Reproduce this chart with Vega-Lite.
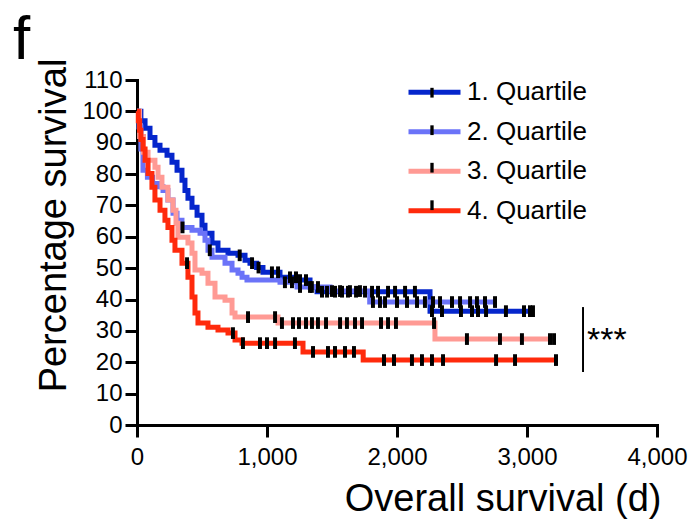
{
  "$schema": "https://vega.github.io/schema/vega-lite/v6.json",
  "width": 520,
  "height": 345,
  "autosize": "none",
  "padding": {"left": 137, "top": 80, "right": 41, "bottom": 99},
  "background": "white",
  "config": {
    "view": {"stroke": null},
    "font": "Liberation Sans",
    "axis": {
      "grid": false,
      "domainColor": "black",
      "domainWidth": 3,
      "domainCap": "square",
      "tickColor": "black",
      "tickWidth": 3,
      "tickSize": 12,
      "labelColor": "black",
      "labelFont": "Liberation Sans",
      "labelFontSize": 24,
      "labelFlush": false,
      "labelOverlap": false,
      "titleColor": "black",
      "titleFont": "Liberation Sans",
      "titleFontSize": 38,
      "titleFontWeight": "normal"
    }
  },
  "title": {
    "text": "f",
    "anchor": "start",
    "frame": "group",
    "fontSize": 62,
    "fontWeight": "normal",
    "font": "Liberation Sans",
    "color": "black",
    "baseline": "alphabetic",
    "offset": 10,
    "dx": -124,
    "dy": 73
  },
  "datasets": {
    "curves": [
      {"q": "1. Quartile", "t": 0, "s": 100},
      {"q": "1. Quartile", "t": 30, "s": 97},
      {"q": "1. Quartile", "t": 62, "s": 94.6},
      {"q": "1. Quartile", "t": 100, "s": 91.7},
      {"q": "1. Quartile", "t": 138, "s": 89.2},
      {"q": "1. Quartile", "t": 177, "s": 87.6},
      {"q": "1. Quartile", "t": 231, "s": 86},
      {"q": "1. Quartile", "t": 269, "s": 83.8},
      {"q": "1. Quartile", "t": 308, "s": 81.2},
      {"q": "1. Quartile", "t": 346, "s": 78},
      {"q": "1. Quartile", "t": 369, "s": 74.8},
      {"q": "1. Quartile", "t": 392, "s": 72.3},
      {"q": "1. Quartile", "t": 423, "s": 69.4},
      {"q": "1. Quartile", "t": 462, "s": 66.9},
      {"q": "1. Quartile", "t": 500, "s": 63.7},
      {"q": "1. Quartile", "t": 523, "s": 61.1},
      {"q": "1. Quartile", "t": 577, "s": 58},
      {"q": "1. Quartile", "t": 623, "s": 55.7},
      {"q": "1. Quartile", "t": 700, "s": 54.8},
      {"q": "1. Quartile", "t": 777, "s": 54.1},
      {"q": "1. Quartile", "t": 831, "s": 52.5},
      {"q": "1. Quartile", "t": 869, "s": 51.6},
      {"q": "1. Quartile", "t": 920, "s": 50.2},
      {"q": "1. Quartile", "t": 969, "s": 48.7},
      {"q": "1. Quartile", "t": 1100, "s": 47.1},
      {"q": "1. Quartile", "t": 1231, "s": 46.2},
      {"q": "1. Quartile", "t": 1331, "s": 44},
      {"q": "1. Quartile", "t": 1385, "s": 42.5},
      {"q": "1. Quartile", "t": 2254, "s": 36.3},
      {"q": "1. Quartile", "t": 3046, "s": 36.3},
      {"q": "2. Quartile", "t": 0, "s": 100},
      {"q": "2. Quartile", "t": 15, "s": 95},
      {"q": "2. Quartile", "t": 30, "s": 88},
      {"q": "2. Quartile", "t": 46, "s": 81.2},
      {"q": "2. Quartile", "t": 80, "s": 79},
      {"q": "2. Quartile", "t": 120, "s": 77},
      {"q": "2. Quartile", "t": 160, "s": 76},
      {"q": "2. Quartile", "t": 200, "s": 74.8},
      {"q": "2. Quartile", "t": 238, "s": 71.7},
      {"q": "2. Quartile", "t": 277, "s": 67.5},
      {"q": "2. Quartile", "t": 308, "s": 65.3},
      {"q": "2. Quartile", "t": 346, "s": 63},
      {"q": "2. Quartile", "t": 423, "s": 62.1},
      {"q": "2. Quartile", "t": 485, "s": 61.1},
      {"q": "2. Quartile", "t": 523, "s": 58.9},
      {"q": "2. Quartile", "t": 546, "s": 55.7},
      {"q": "2. Quartile", "t": 577, "s": 53.5},
      {"q": "2. Quartile", "t": 677, "s": 51.6},
      {"q": "2. Quartile", "t": 731, "s": 49.4},
      {"q": "2. Quartile", "t": 777, "s": 48.4},
      {"q": "2. Quartile", "t": 808, "s": 47.1},
      {"q": "2. Quartile", "t": 846, "s": 46.2},
      {"q": "2. Quartile", "t": 1100, "s": 45.5},
      {"q": "2. Quartile", "t": 1231, "s": 44},
      {"q": "2. Quartile", "t": 1485, "s": 42.7},
      {"q": "2. Quartile", "t": 1790, "s": 39.2},
      {"q": "2. Quartile", "t": 2754, "s": 39.2},
      {"q": "3. Quartile", "t": 0, "s": 100},
      {"q": "3. Quartile", "t": 20, "s": 92},
      {"q": "3. Quartile", "t": 50, "s": 87},
      {"q": "3. Quartile", "t": 85, "s": 84.4},
      {"q": "3. Quartile", "t": 138, "s": 82.2},
      {"q": "3. Quartile", "t": 162, "s": 79},
      {"q": "3. Quartile", "t": 192, "s": 75.8},
      {"q": "3. Quartile", "t": 238, "s": 71.7},
      {"q": "3. Quartile", "t": 277, "s": 68.5},
      {"q": "3. Quartile", "t": 300, "s": 64.3},
      {"q": "3. Quartile", "t": 315, "s": 59.9},
      {"q": "3. Quartile", "t": 392, "s": 58},
      {"q": "3. Quartile", "t": 423, "s": 54.8},
      {"q": "3. Quartile", "t": 446, "s": 49.4},
      {"q": "3. Quartile", "t": 500, "s": 48.4},
      {"q": "3. Quartile", "t": 546, "s": 45.2},
      {"q": "3. Quartile", "t": 600, "s": 40.8},
      {"q": "3. Quartile", "t": 677, "s": 39.8},
      {"q": "3. Quartile", "t": 731, "s": 35.7},
      {"q": "3. Quartile", "t": 754, "s": 34.4},
      {"q": "3. Quartile", "t": 1085, "s": 32.5},
      {"q": "3. Quartile", "t": 2292, "s": 27.4},
      {"q": "3. Quartile", "t": 3208, "s": 27.4},
      {"q": "4. Quartile", "t": 0, "s": 100},
      {"q": "4. Quartile", "t": 10, "s": 97},
      {"q": "4. Quartile", "t": 20, "s": 94},
      {"q": "4. Quartile", "t": 30, "s": 91},
      {"q": "4. Quartile", "t": 46, "s": 88},
      {"q": "4. Quartile", "t": 62, "s": 84.4},
      {"q": "4. Quartile", "t": 85, "s": 80.2},
      {"q": "4. Quartile", "t": 115, "s": 75.8},
      {"q": "4. Quartile", "t": 138, "s": 71.7},
      {"q": "4. Quartile", "t": 177, "s": 68.5},
      {"q": "4. Quartile", "t": 215, "s": 65.3},
      {"q": "4. Quartile", "t": 238, "s": 63},
      {"q": "4. Quartile", "t": 269, "s": 58.9},
      {"q": "4. Quartile", "t": 292, "s": 55.7},
      {"q": "4. Quartile", "t": 346, "s": 51.6},
      {"q": "4. Quartile", "t": 392, "s": 47.1},
      {"q": "4. Quartile", "t": 423, "s": 40.8},
      {"q": "4. Quartile", "t": 446, "s": 35.7},
      {"q": "4. Quartile", "t": 469, "s": 32.5},
      {"q": "4. Quartile", "t": 546, "s": 31.2},
      {"q": "4. Quartile", "t": 623, "s": 30.3},
      {"q": "4. Quartile", "t": 700, "s": 29.3},
      {"q": "4. Quartile", "t": 754, "s": 27.1},
      {"q": "4. Quartile", "t": 808, "s": 26.1},
      {"q": "4. Quartile", "t": 1277, "s": 23.3},
      {"q": "4. Quartile", "t": 1740, "s": 20.7},
      {"q": "4. Quartile", "t": 3231, "s": 20.7}
    ],
    "censors": [
      {"grp": "Q1", "t": 790, "s": 54.1},
      {"grp": "Q1", "t": 885, "s": 51.6},
      {"grp": "Q1", "t": 935, "s": 50.2},
      {"grp": "Q1", "t": 1038, "s": 48.7},
      {"grp": "Q1", "t": 1085, "s": 48.7},
      {"grp": "Q1", "t": 1177, "s": 47.1},
      {"grp": "Q1", "t": 1223, "s": 47.1},
      {"grp": "Q1", "t": 1254, "s": 46.2},
      {"grp": "Q1", "t": 1300, "s": 46.2},
      {"grp": "Q1", "t": 1345, "s": 44},
      {"grp": "Q1", "t": 1423, "s": 42.5},
      {"grp": "Q1", "t": 1462, "s": 42.5},
      {"grp": "Q1", "t": 1523, "s": 42.5},
      {"grp": "Q1", "t": 1577, "s": 42.5},
      {"grp": "Q1", "t": 1623, "s": 42.5},
      {"grp": "Q1", "t": 1685, "s": 42.5},
      {"grp": "Q1", "t": 1754, "s": 42.5},
      {"grp": "Q1", "t": 1808, "s": 42.5},
      {"grp": "Q1", "t": 1854, "s": 42.5},
      {"grp": "Q1", "t": 1931, "s": 42.5},
      {"grp": "Q1", "t": 1985, "s": 42.5},
      {"grp": "Q1", "t": 2062, "s": 42.5},
      {"grp": "Q1", "t": 2138, "s": 42.5},
      {"grp": "Q1", "t": 2269, "s": 36.3},
      {"grp": "Q1", "t": 2346, "s": 36.3},
      {"grp": "Q1", "t": 2492, "s": 36.3},
      {"grp": "Q1", "t": 2577, "s": 36.3},
      {"grp": "Q1", "t": 2623, "s": 36.3},
      {"grp": "Q1", "t": 2685, "s": 36.3},
      {"grp": "Q1", "t": 2838, "s": 36.3},
      {"grp": "Q1", "t": 2977, "s": 36.3},
      {"grp": "Q1", "t": 3023, "s": 36.3},
      {"grp": "Q1", "t": 3046, "s": 36.3},
      {"grp": "Q2", "t": 350, "s": 63},
      {"grp": "Q2", "t": 560, "s": 55.7},
      {"grp": "Q2", "t": 1138, "s": 45.5},
      {"grp": "Q2", "t": 1192, "s": 45.5},
      {"grp": "Q2", "t": 1254, "s": 44},
      {"grp": "Q2", "t": 1331, "s": 44},
      {"grp": "Q2", "t": 1392, "s": 44},
      {"grp": "Q2", "t": 1500, "s": 42.7},
      {"grp": "Q2", "t": 1562, "s": 42.7},
      {"grp": "Q2", "t": 1638, "s": 42.7},
      {"grp": "Q2", "t": 1715, "s": 42.7},
      {"grp": "Q2", "t": 1815, "s": 39.2},
      {"grp": "Q2", "t": 1869, "s": 39.2},
      {"grp": "Q2", "t": 1908, "s": 39.2},
      {"grp": "Q2", "t": 2000, "s": 39.2},
      {"grp": "Q2", "t": 2077, "s": 39.2},
      {"grp": "Q2", "t": 2154, "s": 39.2},
      {"grp": "Q2", "t": 2215, "s": 39.2},
      {"grp": "Q2", "t": 2277, "s": 39.2},
      {"grp": "Q2", "t": 2331, "s": 39.2},
      {"grp": "Q2", "t": 2423, "s": 39.2},
      {"grp": "Q2", "t": 2485, "s": 39.2},
      {"grp": "Q2", "t": 2562, "s": 39.2},
      {"grp": "Q2", "t": 2615, "s": 39.2},
      {"grp": "Q2", "t": 2677, "s": 39.2},
      {"grp": "Q2", "t": 2754, "s": 39.2},
      {"grp": "Q3", "t": 854, "s": 34.4},
      {"grp": "Q3", "t": 1062, "s": 34.4},
      {"grp": "Q3", "t": 1115, "s": 32.5},
      {"grp": "Q3", "t": 1200, "s": 32.5},
      {"grp": "Q3", "t": 1246, "s": 32.5},
      {"grp": "Q3", "t": 1300, "s": 32.5},
      {"grp": "Q3", "t": 1346, "s": 32.5},
      {"grp": "Q3", "t": 1392, "s": 32.5},
      {"grp": "Q3", "t": 1454, "s": 32.5},
      {"grp": "Q3", "t": 1562, "s": 32.5},
      {"grp": "Q3", "t": 1615, "s": 32.5},
      {"grp": "Q3", "t": 1677, "s": 32.5},
      {"grp": "Q3", "t": 1731, "s": 32.5},
      {"grp": "Q3", "t": 1877, "s": 32.5},
      {"grp": "Q3", "t": 1931, "s": 32.5},
      {"grp": "Q3", "t": 1992, "s": 32.5},
      {"grp": "Q3", "t": 2285, "s": 32.5},
      {"grp": "Q3", "t": 2538, "s": 27.4},
      {"grp": "Q3", "t": 2792, "s": 27.4},
      {"grp": "Q3", "t": 2961, "s": 27.4},
      {"grp": "Q3", "t": 3177, "s": 27.4},
      {"grp": "Q3", "t": 3208, "s": 27.4},
      {"grp": "Q4", "t": 385, "s": 51.6},
      {"grp": "Q4", "t": 738, "s": 29.3},
      {"grp": "Q4", "t": 815, "s": 26.1},
      {"grp": "Q4", "t": 946, "s": 26.1},
      {"grp": "Q4", "t": 1000, "s": 26.1},
      {"grp": "Q4", "t": 1062, "s": 26.1},
      {"grp": "Q4", "t": 1215, "s": 26.1},
      {"grp": "Q4", "t": 1354, "s": 23.3},
      {"grp": "Q4", "t": 1469, "s": 23.3},
      {"grp": "Q4", "t": 1523, "s": 23.3},
      {"grp": "Q4", "t": 1600, "s": 23.3},
      {"grp": "Q4", "t": 1669, "s": 23.3},
      {"grp": "Q4", "t": 1900, "s": 20.7},
      {"grp": "Q4", "t": 1977, "s": 20.7},
      {"grp": "Q4", "t": 2115, "s": 20.7},
      {"grp": "Q4", "t": 2192, "s": 20.7},
      {"grp": "Q4", "t": 2269, "s": 20.7},
      {"grp": "Q4", "t": 2354, "s": 20.7},
      {"grp": "Q4", "t": 2762, "s": 20.7},
      {"grp": "Q4", "t": 2908, "s": 20.7},
      {"grp": "Q4", "t": 3223, "s": 20.7}
    ],
    "bracket": [{"t": 3431, "s": 37.6, "s2": 16.9}],
    "stars": [{"t": 3462, "s": 23.6, "label": "***"}]
  },
  "encoding": {
    "x": {
      "field": "t", "type": "quantitative",
      "scale": {"domain": [0, 4000], "nice": false, "zero": false},
      "axis": {
        "values": [0, 1000, 2000, 3000, 4000],
        "format": ",d",
        "labelPadding": 8,
        "title": "Overall survival (d)",
        "titleX": 524,
        "titleY": 85,
        "titleAlign": "right",
        "titleBaseline": "alphabetic"
      }
    },
    "y": {
      "field": "s", "type": "quantitative",
      "scale": {"domain": [0, 110], "nice": false},
      "axis": {
        "values": [0, 10, 20, 30, 40, 50, 60, 70, 80, 90, 100, 110],
        "format": "d",
        "labelPadding": 3,
        "title": "Percentage survival",
        "titleAngle": 270,
        "titleX": -72,
        "titleY": 145,
        "titleAlign": "center",
        "titleBaseline": "alphabetic"
      }
    }
  },
  "layer": [
    {
      "data": {"name": "curves"},
      "mark": {"type": "line", "interpolate": "step-after", "strokeWidth": 5, "strokeCap": "butt"},
      "encoding": {
        "color": {
          "field": "q", "type": "nominal",
          "scale": {
            "domain": ["1. Quartile", "2. Quartile", "3. Quartile", "4. Quartile"],
            "range": ["#0526CC", "#6B73F8", "#FF9A94", "#FF2A0C"]
          },
          "legend": {
            "title": null,
            "orient": "none",
            "legendX": 275.5,
            "legendY": -9.8,
            "padding": 0,
            "rowPadding": 4.5,
            "symbolType": "M-1.333,0H1.333",
            "symbolSize": 1521,
            "symbolStrokeWidth": 5,
            "labelFont": "Liberation Sans",
            "labelFontSize": 26,
            "labelColor": "black",
            "labelOffset": 10.5
          }
        }
      }
    },
    {
      "data": {"name": "censors"},
      "mark": {"type": "point", "filled": true, "color": "black", "opacity": 1, "size": 2190, "strokeWidth": 0},
      "encoding": {
        "shape": {
          "field": "grp", "type": "nominal",
          "scale": {
            "domain": ["Q1", "Q2", "Q3", "Q4"],
            "range": ["M-0.085,-0.25H0.085V0.25H-0.085Z", "M-0.085,-0.25H0.085V0.25H-0.085Z", "M-0.085,-0.25H0.085V0.25H-0.085Z", "M-0.085,-0.25H0.085V0.25H-0.085Z"]
          },
          "legend": {
            "title": null,
            "orient": "none",
            "legendX": 275.5,
            "legendY": -6.8,
            "padding": 0,
            "rowPadding": 4.5,
            "symbolSize": 1521,
            "symbolFillColor": "black",
            "symbolStrokeWidth": 0,
            "labelFont": "Liberation Sans",
            "labelFontSize": 26,
            "labelOpacity": 0,
            "labelExpr": "' '",
            "labelOffset": 10.5
          }
        }
      }
    },
    {
      "data": {"name": "bracket"},
      "mark": {"type": "rule", "color": "black", "strokeWidth": 2},
      "encoding": {
        "y2": {"field": "s2"}
      }
    },
    {
      "data": {"name": "stars"},
      "mark": {"type": "text", "align": "left", "baseline": "alphabetic", "fontSize": 34, "font": "Liberation Sans", "color": "black"},
      "encoding": {
        "text": {"field": "label"}
      }
    }
  ]
}
